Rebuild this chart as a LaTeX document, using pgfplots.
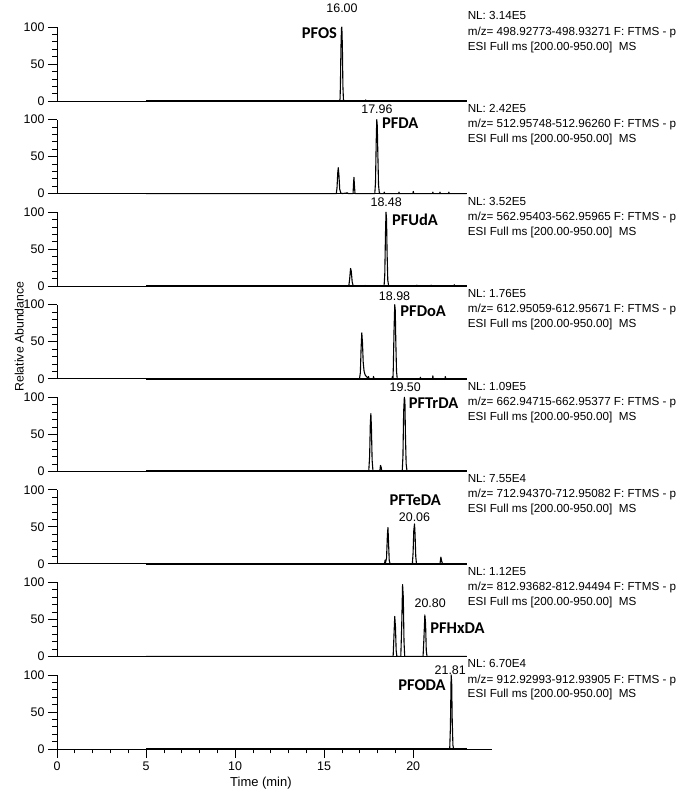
\documentclass[border=0pt]{standalone}
\usepackage{fontspec}
\setmainfont{Liberation Sans}
\newfontfamily\calib{Carlito}
\usepackage{pgfplots}
\pgfplotsset{compat=1.18}

% chromatogram panel style (1 min = 17.8bp, 100 % = 74bp)
\pgfplotsset{
  panel/.style={
    scale only axis, width=410bp, height=74bp,
    xmin=0, xmax=23.03, ymin=0, ymax=100,
    axis x line*=bottom, axis y line*=left,
    axis line style={-, line width=0.8bp},
    xtick=\empty, ytick={0,50,100}, minor y tick num=4,
    tick align=outside, major tick length=9bp, minor tick length=4.5bp,
    tick style={line width=0.7bp, black},
    tick label style={font=\fontsize{12.5}{14}\selectfont},
    /pgf/number format/assume math mode=true,
    clip=false,
  },
  trace/.style={black, line width=1.1bp, line join=round},
  base/.style={black, line width=1.6bp},
}
\newcommand{\info}[3]{%
  \node[anchor=west, inner sep=0, font=\fontsize{11.7}{14}\selectfont] at (axis cs:23.05,115) {NL: #1};
  \node[anchor=west, inner sep=0, font=\fontsize{11.7}{14}\selectfont] at (axis cs:23.05,93) {m/z= #2-#3 F: FTMS - p};
  \node[anchor=west, inner sep=0, font=\fontsize{11.7}{14}\selectfont] at (axis cs:23.05,73) {ESI Full ms [200.00-950.00]\ \ MS};
}
\newcommand{\rt}[3]{\node[inner sep=0, font=\fontsize{12.5}{14}\selectfont] at (axis cs:#1,#2) {#3};}
\newcommand{\cmp}[4]{\node[anchor=#3, inner sep=0, font=\calib\bfseries\fontsize{16.5}{18}\selectfont] at (axis cs:#1,#2) {#4};}

\begin{document}
\begin{tikzpicture}
% 1 PFOS
\begin{axis}[panel, at={(0,0)}]
  \path (axis cs:-3.2,136.5) -- (axis cs:34.8,136.5);
  \addplot[base] coordinates {(5,0) (23,0)};
  \addplot[trace] coordinates {(5,0) (15.86,0) (15.89,3) (15.91,20) (15.94,72) (15.97,98) (15.99,100) (16.02,74) (16.05,20) (16.08,2) (16.12,0) (17.3,0) (17.33,1.5) (17.36,0) (23,0)};
  \rt{16.0}{126}{16.00}
  \cmp{15.73}{92}{east}{PFOS}
  \info{3.14E5}{498.92773}{498.93271}
\end{axis}
% 2 PFDA
\begin{axis}[panel, at={(0,-92.5bp)}]
  \addplot[base] coordinates {(5,0) (23,0)};
  \addplot[trace] coordinates {(5,0) (15.68,0) (15.72,8) (15.76,28) (15.79,35) (15.83,24) (15.87,6) (15.93,1) (16.0,0) (16.3,1) (16.35,0) (16.62,0) (16.65,15) (16.67,22) (16.7,10) (16.73,0) (17.84,0) (17.88,15) (17.92,70) (17.95,100) (17.98,92) (18.01,55) (18.05,12) (18.09,2) (18.13,0) (18.35,0) (18.37,2) (18.4,0) (19.18,0) (19.2,2) (19.22,0) (19.98,0) (20.0,3) (20.03,0) (21.08,0) (21.1,2) (21.12,0) (21.48,0) (21.5,2) (21.52,0) (21.98,0) (22.0,2) (22.02,0) (23,0)};
  \rt{17.96}{113.5}{17.96}
  \cmp{18.24}{94.6}{west}{PFDA}
  \info{2.42E5}{512.95748}{512.96260}
\end{axis}
% 3 PFUdA
\begin{axis}[panel, at={(0,-185bp)}]
  \addplot[base] coordinates {(5,0) (23,0)};
  \addplot[trace] coordinates {(5,0) (16.38,0) (16.43,10) (16.48,24) (16.52,20) (16.57,6) (16.62,1) (16.7,0) (17.28,0) (17.3,1) (17.32,0) (18.13,0) (18.15,1) (18.17,0) (18.36,0) (18.4,15) (18.44,70) (18.47,100) (18.5,90) (18.53,45) (18.57,8) (18.62,0) (20.18,0) (20.2,1.5) (20.22,0) (20.98,0) (21.0,1.5) (21.02,0) (22.28,0) (22.3,2) (22.32,0) (23,0)};
  \rt{18.48}{114}{18.48}
  \cmp{18.8}{89.6}{west}{PFUdA}
  \info{3.52E5}{562.95403}{562.95965}
\end{axis}
% 4 PFDoA
\begin{axis}[panel, at={(0,-277.5bp)}]
  \addplot[base] coordinates {(5,0) (23,0)};
  \addplot[trace] coordinates {(5,0) (16.98,0) (17.03,8) (17.07,40) (17.11,62) (17.15,48) (17.19,22) (17.24,10) (17.3,5) (17.37,3) (17.45,1) (17.49,3) (17.52,0) (17.75,0) (17.77,3) (17.8,0) (18.8,0) (18.83,3) (18.86,0) (18.88,15) (18.92,65) (18.96,100) (18.99,92) (19.02,50) (19.06,10) (19.1,0) (20.38,0) (20.4,2) (20.42,0) (21.08,0) (21.1,4) (21.12,0) (21.78,0) (21.8,3) (21.82,0) (23,0)};
  \rt{18.95}{112}{18.98}
  \cmp{19.27}{91.8}{west}{PFDoA}
  \info{1.76E5}{612.95059}{612.95671}
  \node[rotate=90, inner sep=0, font=\fontsize{12.3}{14}\selectfont] at (rel axis cs:-0.092,0.57) {Relative Abundance};
\end{axis}
% 5 PFTrDA
\begin{axis}[panel, at={(0,-370bp)}]
  \addplot[base] coordinates {(5,0) (23,0)};
  \addplot[trace] coordinates {(5,0) (17.38,0) (17.4,1) (17.42,0) (17.5,0) (17.55,20) (17.59,65) (17.62,78) (17.65,60) (17.69,15) (17.74,0) (18.12,0) (18.16,8) (18.2,5) (18.24,0) (19.38,0) (19.42,20) (19.46,80) (19.5,100) (19.53,95) (19.56,50) (19.6,10) (19.65,0) (23,0)};
  \rt{19.55}{113.8}{19.50}
  \cmp{19.74}{92.6}{west}{PFTrDA}
  \info{1.09E5}{662.94715}{662.95377}
\end{axis}
% 6 PFTeDA
\begin{axis}[panel, at={(0,-462.5bp)}]
  \addplot[base] coordinates {(5,0) (23,0)};
  \addplot[trace] coordinates {(5,0) (18.38,0) (18.42,5) (18.45,2) (18.5,8) (18.55,40) (18.58,49) (18.61,30) (18.65,5) (18.7,0) (19.95,0) (19.99,15) (20.03,45) (20.07,54) (20.1,40) (20.14,10) (20.18,0) (21.5,0) (21.55,9) (21.6,3) (21.65,0) (23,0)};
  \cmp{20.11}{85.5}{center}{PFTeDA}
  \rt{20.07}{63.5}{20.06}
  \info{7.55E4}{712.94370}{712.95082}
\end{axis}
% 7 PFHxDA
\begin{axis}[panel, at={(0,-555bp)}]
  \addplot[base] coordinates {(5,0) (23,0)};
  \addplot[trace] coordinates {(5,0) (18.87,0) (18.92,30) (18.96,54) (19.0,40) (19.04,8) (19.08,0) (19.3,0) (19.35,40) (19.4,97) (19.44,80) (19.48,20) (19.52,0) (20.55,0) (20.6,25) (20.65,56) (20.69,45) (20.73,8) (20.77,0) (23,0)};
  \rt{20.95}{71.8}{20.80}
  \cmp{20.95}{38}{west}{PFHxDA}
  \info{1.12E5}{812.93682}{812.94494}
\end{axis}
% 8 PFODA
\begin{axis}[panel, at={(0,-647.5bp)}, width=435.2bp, xmax=24.45,
  xtick={0,5,10,15,20}, minor x tick num=4]
  \path (axis cs:-3.2,-56.8) -- (axis cs:34.8,-56.8);
  \addplot[base] coordinates {(5,0) (23,0)};
  \addplot[trace] coordinates {(5,0) (22.05,0) (22.09,30) (22.13,100) (22.16,90) (22.19,40) (22.23,5) (22.27,0) (23,0)};
  \rt{22.08}{107}{21.81}
  \cmp{21.83}{86.5}{east}{PFODA}
  \info{6.70E4}{912.92993}{912.93905}
  \node[inner sep=0, font=\fontsize{13}{15}\selectfont] at (axis cs:11.45,-46) {Time (min)};
\end{axis}
\end{tikzpicture}
\end{document}
